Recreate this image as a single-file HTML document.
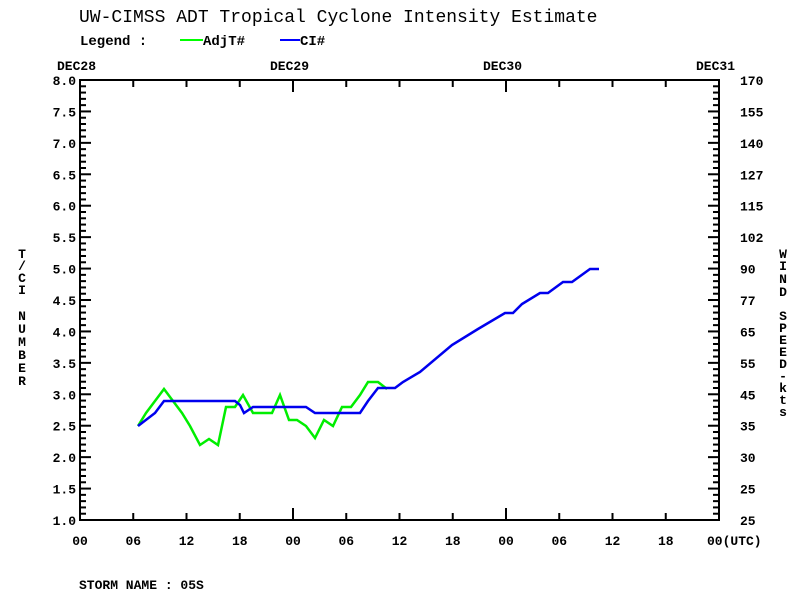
<!DOCTYPE html>
<html><head><meta charset="utf-8"><style>
html,body{margin:0;padding:0;background:#fff;}
svg text{font-family:"Liberation Mono",monospace;fill:#000;}
</style></head><body>
<svg width="800" height="600" xmlns="http://www.w3.org/2000/svg">
<rect width="800" height="600" fill="#fff"/>
<text x="79" y="22" font-size="18">UW-CIMSS ADT Tropical Cyclone Intensity Estimate</text>
<text x="80" y="45" font-size="14" font-weight="bold">Legend :</text>
<line x1="180" y1="40" x2="203" y2="40" stroke="#00ff00" stroke-width="2"/>
<text x="203" y="45" font-size="14" font-weight="bold">AdjT#</text>
<line x1="280" y1="40" x2="300" y2="40" stroke="#0000ff" stroke-width="2"/>
<text x="300" y="45" font-size="14" font-weight="bold">CI#</text>
<g font-size="13" font-weight="bold">
<text x="57" y="70">DEC28</text><text x="270" y="70">DEC29</text><text x="483" y="70">DEC30</text><text x="696" y="70">DEC31</text>
</g>
<rect x="80" y="80" width="639" height="440" fill="none" stroke="#000" stroke-width="2"/>
<g id="ticks" stroke="#000" stroke-width="2"></g>
<g id="labels" font-size="13" font-weight="bold"></g>
<g font-size="13" font-weight="bold" text-anchor="middle">
<text x="22" y="258">T</text><text x="22" y="270">/</text><text x="22" y="282">C</text><text x="22" y="294">I</text>
<text x="22" y="320">N</text><text x="22" y="333">U</text><text x="22" y="346">M</text><text x="22" y="359">B</text><text x="22" y="372">E</text><text x="22" y="385">R</text>
<text x="783" y="258">W</text><text x="783" y="270">I</text><text x="783" y="283">N</text><text x="783" y="296">D</text>
<text x="783" y="320">S</text><text x="783" y="332">P</text><text x="783" y="344">E</text><text x="783" y="356">E</text><text x="783" y="368">D</text>
<text x="783" y="380">-</text><text x="783" y="392">k</text><text x="783" y="404">t</text><text x="783" y="416">s</text>
</g>
<text x="79" y="589" font-size="13" font-weight="bold">STORM NAME : 05S</text>
<polyline fill="none" stroke="#00ee00" stroke-width="2.5" points="138,426 146,413 155,401 164,389 173,401 182,413 190,426 200,445 209,439 218,445 226,407 235,407 243,395 253,413 262,413 272,413 280,395 289,420 297,420 306,426 315,438 324,420 333,426 342,407 351,407 360,395 368,382 378,382 387,389"/>
<polyline fill="none" stroke="#0000ee" stroke-width="2.5" points="138,426 155,413 164,401 235,401 240,405 244,413 253,407 306,407 315,413 360,413 368,401 378,388 395,388 403,382 420,372 452,345 478,329 505,313 513,313 522,304 540,293 548,293 563,282 572,282 590,269 599,269"/>
</svg>
<script>
const ns="http://www.w3.org/2000/svg";
const t=document.getElementById("ticks"),l=document.getElementById("labels");
function ln(x1,y1,x2,y2){const e=document.createElementNS(ns,"line");e.setAttribute("x1",x1);e.setAttribute("y1",y1);e.setAttribute("x2",x2);e.setAttribute("y2",y2);t.appendChild(e);}
function tx(x,y,s,a){const e=document.createElementNS(ns,"text");e.setAttribute("x",x);e.setAttribute("y",y);if(a)e.setAttribute("text-anchor",a);e.textContent=s;l.appendChild(e);}
const ys=440/70;
for(let i=0;i<=70;i++){const y=80+i*ys;const maj=i%5==0;const len=maj?11:6;ln(80,y,80+len,y);ln(719,y,719-len,y);}
const lv=["8.0","7.5","7.0","6.5","6.0","5.5","5.0","4.5","4.0","3.5","3.0","2.5","2.0","1.5","1.0"];
const rv=["170","155","140","127","115","102","90","77","65","55","45","35","30","25","25"];
for(let i=0;i<15;i++){const y=80+i*ys*5+5;tx(76,y,lv[i],"end");tx(740,y,rv[i]);}
const hs=["00","06","12","18"];
for(let i=0;i<=12;i++){const x=80+i*639/12;const len=(i%4==0)?12:7;ln(x,80,x,80+len);ln(x,520,x,520-len);
 if(i<12)tx(x,545,hs[i%4],"middle");}
tx(707,545,"00(UTC)");
</script>
</body></html>
